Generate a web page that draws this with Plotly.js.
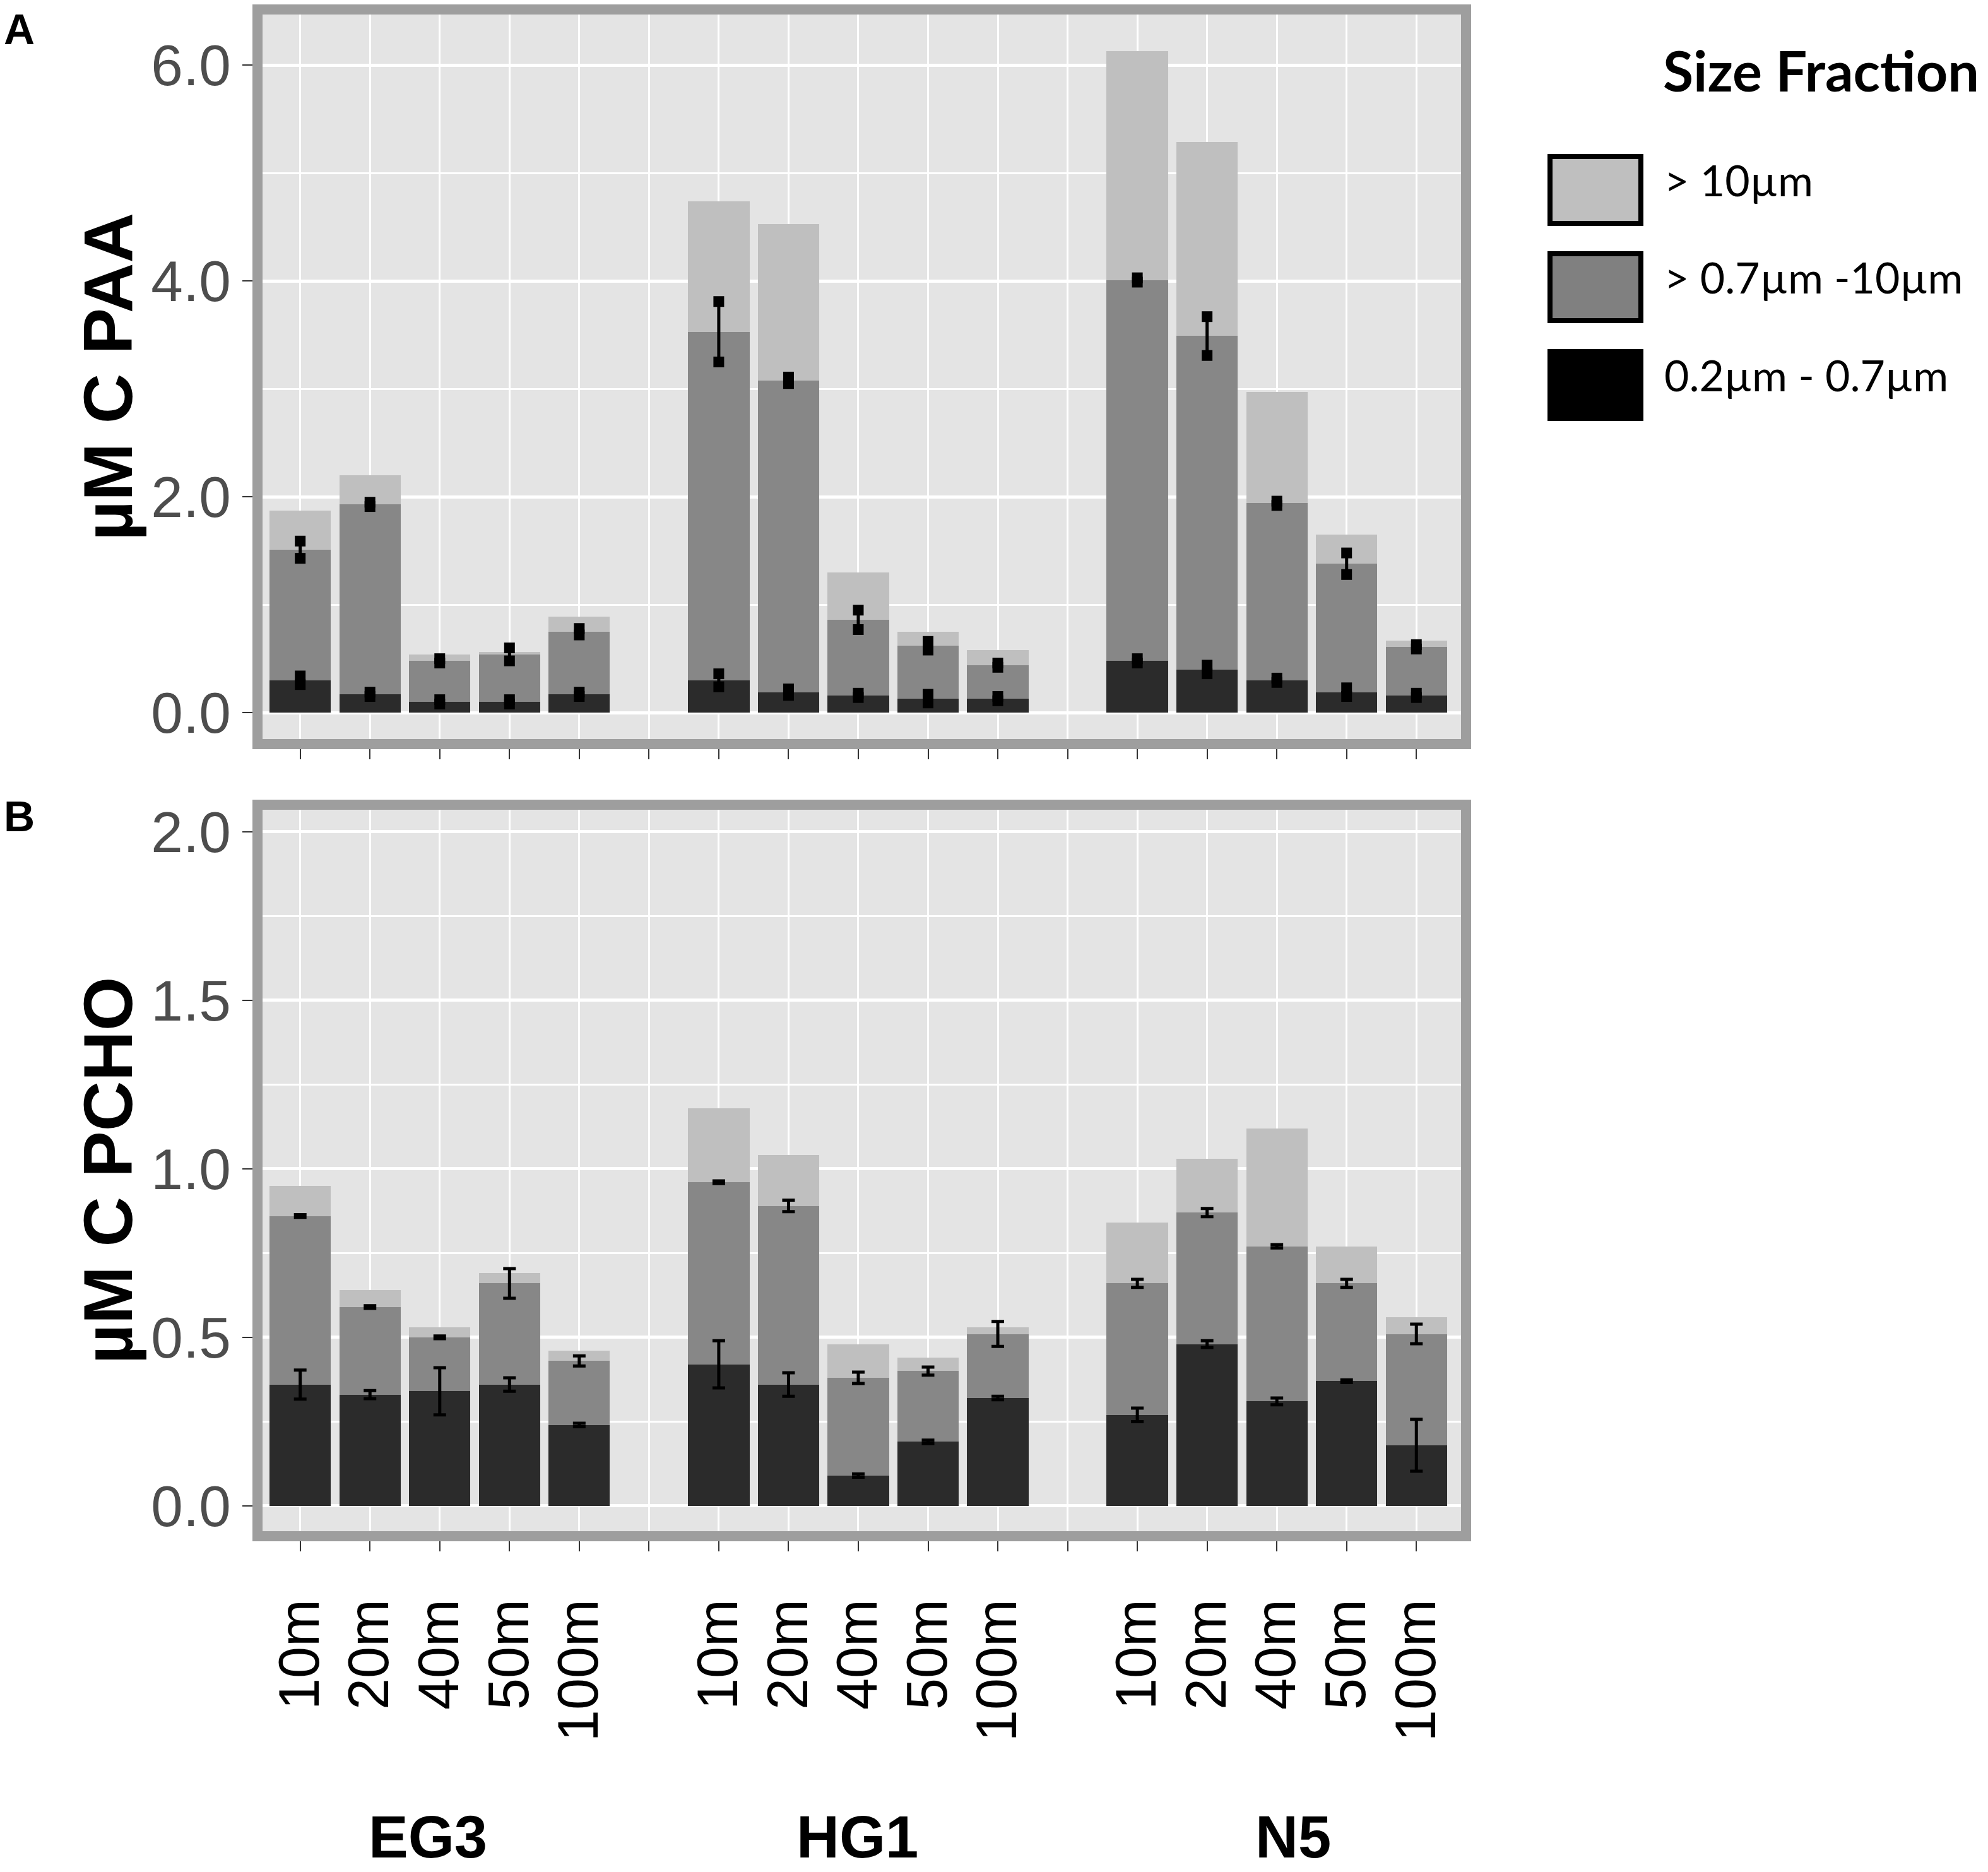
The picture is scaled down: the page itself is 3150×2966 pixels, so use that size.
<!DOCTYPE html>
<html>
<head>
<meta charset="utf-8">
<script src="https://cdn.plot.ly/plotly-3.0.1.min.js"></script>
<style>
  body { margin: 0; background: #fff; }
  #chart { width: 3150px; height: 2966px; }
</style>
</head>
<body>
<div id="chart"></div>
<script>
const stations = ['EG3', 'HG1', 'N5'];
const depths = ['10m', '20m', '40m', '50m', '100m'];
const fractions = ['0.2µm - 0.7µm', '> 0.7µm -10µm', '> 10µm'];

// A: µM C PAA, segment heights (EG3 x5, HG1 x5, N5 x5)
const paaSmall = [0.30, 0.17, 0.10, 0.10, 0.17, 0.30, 0.19, 0.16, 0.13, 0.13, 0.48, 0.40, 0.30, 0.19, 0.16];
const paaMid = [1.21, 1.76, 0.38, 0.44, 0.58, 3.23, 2.89, 0.70, 0.49, 0.31, 3.53, 3.09, 1.64, 1.19, 0.45];
const paaLarge = [0.36, 0.27, 0.06, 0.02, 0.14, 1.21, 1.45, 0.44, 0.13, 0.14, 2.12, 1.80, 1.03, 0.27, 0.06];
const paaSmallErr = [0.04, 0.02, 0.02, 0.02, 0.02, 0.06, 0.03, 0.02, 0.04, 0.02, 0.02, 0.04, 0.02, 0.04, 0.02];
const paaMidErr = [0.08, 0.02, 0.02, 0.06, 0.03, 0.28, 0.03, 0.09, 0.04, 0.02, 0.02, 0.18, 0.02, 0.10, 0.02];

// B: µM C PCHO
const pchoSmall = [0.36, 0.33, 0.34, 0.36, 0.24, 0.42, 0.36, 0.09, 0.19, 0.32, 0.27, 0.48, 0.31, 0.37, 0.18];
const pchoMid = [0.50, 0.26, 0.16, 0.30, 0.19, 0.54, 0.53, 0.29, 0.21, 0.19, 0.39, 0.39, 0.46, 0.29, 0.33];
const pchoLarge = [0.09, 0.05, 0.03, 0.03, 0.03, 0.22, 0.15, 0.10, 0.04, 0.02, 0.18, 0.16, 0.35, 0.11, 0.05];
const pchoSmallErr = [0.043, 0.012, 0.07, 0.02, 0.005, 0.07, 0.035, 0.005, 0.005, 0.005, 0.02, 0.01, 0.01, 0.004, 0.077];
const pchoMidErr = [0.004, 0.004, 0.004, 0.044, 0.015, 0.004, 0.017, 0.017, 0.012, 0.037, 0.012, 0.012, 0.005, 0.012, 0.029];

const barColors = ['#2b2b2b', '#878787', '#bfbfbf'];
const keyColors = ['#000000', '#808080', '#bfbfbf'];

// one empty slot between stations
const xPos = [];
stations.forEach((s, si) => {
  depths.forEach((d, di) => xPos.push(si * 6 + di + 1));
});
const tickVals = [];
const tickText = [];
for (let i = 1; i <= 17; i++) {
  tickVals.push(i);
  tickText.push(i % 6 === 0 ? '' : depths[(i - 1) % 6]);
}

function barTraces(segs, xa, ya) {
  return segs.map((vals, k) => ({
    type: 'bar', x: xPos, y: vals, xaxis: xa, yaxis: ya,
    name: fractions[k], width: 0.88,
    marker: { color: barColors[k], line: { width: 0 } },
    hoverinfo: 'skip'
  }));
}

function errTrace(tops, errs, xa, ya, thick, capw) {
  return {
    type: 'scatter', mode: 'markers', x: xPos, y: tops, xaxis: xa, yaxis: ya,
    marker: { color: 'rgba(0,0,0,0)', size: 2 },
    error_y: { type: 'data', array: errs, visible: true, color: '#000', thickness: thick, width: capw },
    hoverinfo: 'skip', showlegend: false
  };
}

// chunky square caps used in panel A
function capTrace(tops, errs, sign, xa, ya) {
  return {
    type: 'scatter', mode: 'markers', x: xPos,
    y: tops.map((v, i) => v + sign * errs[i]), xaxis: xa, yaxis: ya,
    marker: { symbol: 'square', size: 17, color: '#000', line: { width: 0 } },
    hoverinfo: 'skip', showlegend: false
  };
}

const paaMidTop = paaSmall.map((v, i) => v + paaMid[i]);
const pchoMidTop = pchoSmall.map((v, i) => v + pchoMid[i]);

const data = [
  ...barTraces([paaSmall, paaMid, paaLarge], 'x', 'y'),
  ...barTraces([pchoSmall, pchoMid, pchoLarge], 'x2', 'y2'),
  errTrace(paaSmall, paaSmallErr, 'x', 'y', 5, 0),
  errTrace(paaMidTop, paaMidErr, 'x', 'y', 5, 0),
  capTrace(paaSmall, paaSmallErr, 1, 'x', 'y'),
  capTrace(paaSmall, paaSmallErr, -1, 'x', 'y'),
  capTrace(paaMidTop, paaMidErr, 1, 'x', 'y'),
  capTrace(paaMidTop, paaMidErr, -1, 'x', 'y'),
  errTrace(pchoSmall, pchoSmallErr, 'x2', 'y2', 5, 10),
  errTrace(pchoMidTop, pchoMidErr, 'x2', 'y2', 5, 10)
];

// page pixel -> paper coords
const L = 416, R = 2315, T = 23, B = 2426;
const px = v => (v - L) / (R - L);
const py = v => (B - v) / (B - T);

const border = { showline: true, linecolor: '#9e9e9e', linewidth: 16, mirror: true, zeroline: false };
const xBase = Object.assign({
  range: [0.46, 17.64], tickvals: tickVals, ticktext: tickText,
  ticks: 'outside', ticklen: 16, tickwidth: 2, tickcolor: '#333',
  showgrid: true, gridcolor: '#ffffff', gridwidth: 3, fixedrange: true
}, border);
const yBase = Object.assign({
  ticks: 'outside', ticklen: 16, tickwidth: 2, tickcolor: '#333',
  tickformat: '.1f', tickfont: { size: 91, color: '#4d4d4d' },
  showgrid: true, gridcolor: '#ffffff', gridwidth: 5, fixedrange: true
}, border);

const shapes = [];
const annotations = [];
const keyTop = [244, 398, 553];
const keyText = ['> 10µm', '> 0.7µm -10µm', '0.2µm - 0.7µm'];
const keyFill = [keyColors[2], keyColors[1], keyColors[0]];
keyTop.forEach((t, k) => {
  shapes.push({
    type: 'rect', xref: 'paper', yref: 'paper',
    x0: px(2456), x1: px(2600), y0: py(t + 4), y1: py(t + 110),
    fillcolor: keyFill[k], line: { color: '#000', width: 8 }
  });
  annotations.push({
    xref: 'paper', yref: 'paper', x: px(2635), y: py(t + 40),
    xanchor: 'left', yanchor: 'middle', showarrow: false, text: keyText[k],
    font: { family: 'Lato, sans-serif', size: 68, color: '#000' }
  });
});
annotations.push({
  xref: 'paper', yref: 'paper', x: px(2633), y: py(111),
  xanchor: 'left', yanchor: 'middle', showarrow: false, text: '<b>Size Fraction</b>',
  font: { family: 'Lato, sans-serif', size: 88, color: '#000' }
});
annotations.push({
  xref: 'paper', yref: 'paper', x: px(4), y: py(46), xanchor: 'left', yanchor: 'middle',
  showarrow: false, text: '<b>A</b>', font: { size: 68, color: '#000' }
});
annotations.push({
  xref: 'paper', yref: 'paper', x: px(4), y: py(1293), xanchor: 'left', yanchor: 'middle',
  showarrow: false, text: '<b>B</b>', font: { size: 68, color: '#000' }
});
const groupCenters = [678, 1358, 2049];
stations.forEach((s, si) => {
  annotations.push({
    xref: 'paper', yref: 'paper', x: px(groupCenters[si]), y: py(2910), xanchor: 'center', yanchor: 'middle',
    showarrow: false, text: '<b>' + s + '</b>', font: { size: 94, color: '#000' }
  });
});

const layout = {
  width: 3150, height: 2966,
  paper_bgcolor: '#ffffff', plot_bgcolor: '#e4e4e4',
  barmode: 'stack', showlegend: false,
  margin: { l: L, r: 3150 - R, t: T, b: 2966 - B },
  font: { family: 'Liberation Sans, Arial, sans-serif', color: '#000' },
  xaxis: Object.assign({}, xBase, { anchor: 'y', showticklabels: false }),
  yaxis: Object.assign({}, yBase, {
    anchor: 'x', domain: [py(1171), 1], range: [-0.245, 6.47],
    tickvals: [0, 2, 4, 6],
    minor: { dtick: 1, tick0: 0, showgrid: true, gridcolor: '#ffffff', gridwidth: 3 },
    title: { text: '<b>µM C PAA</b>', font: { size: 110, color: '#000' }, standoff: 0 }
  }),
  xaxis2: Object.assign({}, xBase, {
    anchor: 'y2', showticklabels: true, tickangle: -90,
    tickfont: { size: 90, color: '#000' }, ticklabelstandoff: 40
  }),
  yaxis2: Object.assign({}, yBase, {
    anchor: 'x2', domain: [0, py(1283)], range: [-0.075, 2.065],
    tickvals: [0, 0.5, 1, 1.5, 2],
    minor: { dtick: 0.25, tick0: 0, showgrid: true, gridcolor: '#ffffff', gridwidth: 3 },
    title: { text: '<b>µM C PCHO</b>', font: { size: 110, color: '#000' }, standoff: 0 }
  }),
  shapes: shapes,
  annotations: annotations
};

Plotly.newPlot('chart', data, layout, { displayModeBar: false, staticPlot: true });
</script>
</body>
</html>
